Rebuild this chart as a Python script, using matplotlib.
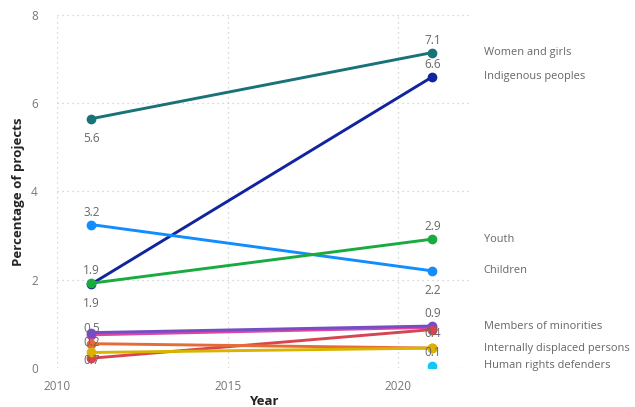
import matplotlib.pyplot as plt

plt.rcParams['font.family'] = ['Open Sans', 'DejaVu Sans']

years = [2011, 2021]

# series values (None = no data point)
names = ['Women and girls', 'Indigenous peoples', 'Children', 'Youth',
         'Pink group', 'Members of minorities', 'Persons with disabilities',
         'Internally displaced persons', 'Migrants', 'Human rights defenders']
values = [
    [5.65, 7.15],
    [1.9, 6.6],
    [3.25, 2.2],
    [1.92, 2.92],
    [0.75, 0.92],
    [0.8, 0.95],
    [0.22, 0.87],
    [0.55, 0.45],
    [0.35, 0.45],
    [None, 0.05],
]
colors = ['#197278', '#12239E', '#118DFF', '#1AAB40', '#E044A7', '#744EC2',
          '#D64550', '#E66C37', '#D9B300', '#15C6F4']

# data labels as printed in the chart: (year index, series index, text, offset in points)
point_labels = [
    (0, 0, '5.6', -14), (1, 0, '7.1', 9),
    (1, 1, '6.6', 9), (0, 1, '1.9', -14),
    (0, 2, '3.2', 9), (1, 2, '2.2', -14),
    (0, 3, '1.9', 9), (1, 3, '2.9', 9),
    (0, 5, '0.5', 3), (1, 5, '0.9', 9),
    (0, 7, '0.2', 1), (1, 6, '0.4', -3),
    (0, 8, '0.7', -6), (1, 8, '0.1', -3),
]

# category labels on the right: (series index, text)
end_labels = [(0, 'Women and girls'), (1, 'Indigenous peoples'), (3, 'Youth'),
              (2, 'Children'), (5, 'Members of minorities'),
              (7, 'Internally displaced persons'), (9, 'Human rights defenders')]

fig = plt.figure(figsize=(6.35, 4.07), dpi=100)
ax = fig.add_axes([0.09, 0.096, 0.65, 0.867])

for vals, c in zip(values, colors):
    xs = [y for y, v in zip(years, vals) if v is not None]
    ys = [v for v in vals if v is not None]
    ax.plot(xs, ys, color=c, lw=2.1, marker='o', ms=6, solid_capstyle='round')

for yi, si, txt, off in point_labels:
    ax.annotate(txt, (years[yi], values[si][yi]), xytext=(0, off),
                textcoords='offset points', ha='center', va='center',
                fontsize=8.5, color='#666666')

for si, txt in end_labels:
    ax.annotate(txt, (1.0, values[si][1]), xycoords=('axes fraction', 'data'),
                xytext=(10, 0), textcoords='offset points', ha='left', va='center',
                fontsize=7.9, color='#666666', annotation_clip=False)

ax.set_xlim(2010, 2022.1)
ax.set_ylim(0, 8)
ax.set_xticks([2010, 2015, 2020])
ax.set_yticks([0, 2, 4, 6, 8])
ax.grid(True, color='#cccccc', linestyle=(0, (1, 3)), lw=0.9)
ax.set_axisbelow(True)
for s in ax.spines.values():
    s.set_visible(False)
ax.tick_params(length=0, labelsize=8.5, labelcolor='#777777')
ax.tick_params(axis='y', pad=14)
ax.tick_params(axis='x', pad=9)
ax.set_xlabel('Year', fontsize=9.5, fontweight='bold', color='#252423', labelpad=1)
ax.set_ylabel('Percentage of projects', fontsize=9.5, fontweight='bold',
              color='#252423', labelpad=4)

fig.savefig('out.png', dpi=100)
